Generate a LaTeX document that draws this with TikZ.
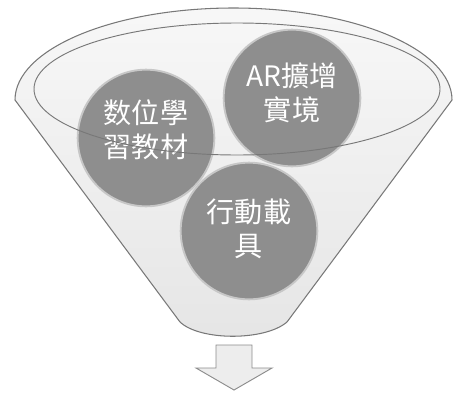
\documentclass[tikz,border=0pt]{standalone}
\usepackage{fontspec}
\usepackage{tikz}
\usepackage{xcolor}
\usetikzlibrary{positioning}
\newfontfamily\cjk{Noto Sans CJK TC}
\definecolor{rimgray}{RGB}{120, 120, 120}
\definecolor{ballgray}{RGB}{142, 142, 142}

\begin{document}
\begin{tikzpicture}[
    x=0.03cm, y=-0.03cm,
    funnel/.style={
      draw=rimgray,
      line width=0.9pt,
      top color=black!3,
      bottom color=black!10
    },
    bubble/.style={
      circle,
      draw=black!22,
      line width=1.6pt,
      fill=ballgray,
      minimum size=4.1cm
    },
    label text/.style={
      text=white,
      font=\cjk\fontsize{24}{29}\selectfont,
      align=center
    },
    outarrow/.style={draw=black!45, fill=black!7, line width=0.8pt}
  ]
    \useasboundingbox (0,0) rectangle (458,392);

    % funnel body
    \draw[funnel] (15,100) arc[start angle=180, end angle=360, x radius=218.5, y radius=92]
      -- (287,322) .. controls (265,341) and (200,341) .. (180,322) -- cycle;

    % the three bubbles
    \node[bubble] (digital) at (146,138) {};
    \node[bubble] (ar) at (292,98) {};
    \node[bubble] (mobile) at (249,231) {};

    \node[label text] (digitaltext) at (digital.center) [yshift=0.25cm] {数位學\\習教材};
    \node[label text] (artext) at (ar.center) [yshift=0.15cm] {AR擴增\\實境};
    \node[label text] (mobiletext) at (mobile.center) [yshift=0.08cm] {行動載\\具};

    % rim of the funnel mouth
    \draw[rimgray, line width=0.8pt] (237,89) ellipse[x radius=203, y radius=66];

    % output arrow
    \coordinate (tip) at (234,390);
    \draw[outarrow] (216,345) -- (252,345) -- (252,368) -- (272,368) -- (tip)
      -- (196,368) -- (216,368) -- cycle;
\end{tikzpicture}
\end{document}
